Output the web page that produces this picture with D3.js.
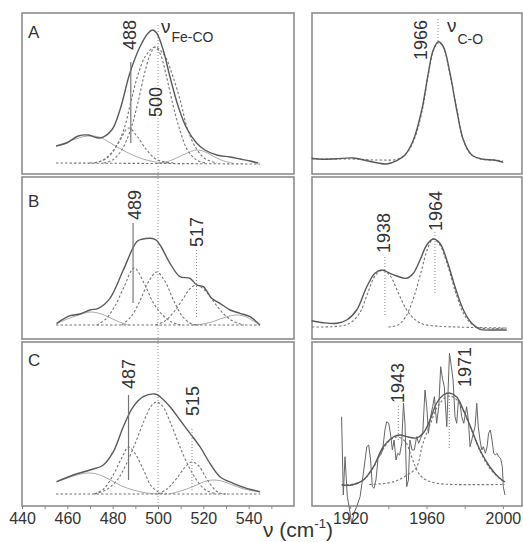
<!DOCTYPE html>
<html>
<head>
<meta charset="utf-8">
<script src="https://cdn.jsdelivr.net/npm/d3@7"></script>
<style>
  html, body { margin: 0; padding: 0; background: #fff; }
  svg text { font-family: "Liberation Sans", Arial, sans-serif; fill: #333; }
</style>
</head>
<body>
<svg id="chart" width="523" height="542"></svg>
<script>
// ---- data: [wavenumber (cm-1), intensity (arb.)] ----
// left column, Fe-CO region
const envA = [[455,28],[459.7,31],[464.8,38],[469.3,39],[474.4,36],[479.6,44],[483.2,64],[487.6,101],[492,127],[495.7,141],[497.6,144],[499.4,141],[502.3,124],[505.3,97],[509,67],[512.6,46],[517,31],[520.7,24],[525.9,19],[531.7,17],[536.2,15],[540.6,13],[544.2,11]];
const lightA = [
  [[455,28],[460,32],[465,36],[469,38],[474,37],[479,31],[486,22],[492,16],[499,12],[505,11]],
  [[500,11],[505,13],[510,18],[514,22],[517,24],[521,22],[525,17],[529,13],[533,11]]
];
const dashA = [
  [[470,11],[475,13],[479,20],[483,33],[487,46],[491,37],[495,24],[499,15],[503,12],[507,11]],
  [[476,11],[480,14],[484,24],[488,45],[491,70],[494,100],[496.5,119],[498.7,127],[501,120],[503.5,100],[506.5,70],[509.5,45],[513,24],[517,14],[521,11]],
  [[472,11],[477,15],[481,25],[485,45],[488,72],[491,98],[494.5,118],[498.7,127],[503,118],[506.5,98],[510,72],[513,45],[517,25],[521,15],[526,11]],
  [[455,11],[545,10]]
];

const envB = [[455.3,15.7],[461.2,23.3],[465.6,25],[470,29],[473.7,30.7],[478.8,40.7],[484.7,69],[490.6,97.3],[492.8,99.7],[498.7,99.7],[500.9,94],[505.3,75.7],[509.7,62.3],[514.1,60.7],[517.1,54],[520,52.3],[523.7,40.7],[527.3,35.7],[531.8,29],[536.2,25.7],[540.6,22.3],[545,14]];
const lightB = [
  [[455,15],[460,20],[465,24],[470,27],[475,25],[479,21],[483,17],[487,14]],
  [[515,14],[520,15],[525,18],[530,22],[535,24],[539,22],[542,18],[545,14]]
];
const dashB = [
  [[473,14],[477,20],[481,33],[485,52],[489.5,71],[494,55],[498,36],[502,24],[506,17],[510,14]],
  [[484,14],[488,22],[492,38],[496,58],[499.4,67],[503,58],[507,38],[511,22],[515,15],[518,14]],
  [[499,14],[503,18],[507,27],[511,40],[514,50],[517,54],[521,48],[525,36],[529,25],[533,18],[538,14]],
  [[455,14],[545,14]]
];

const envC = [[455.3,24.3],[462.6,31],[470,36],[475.9,41],[480.3,54.3],[484.7,79.3],[489.1,99.3],[493.5,109.3],[498.7,112],[500.9,109.3],[505.3,99.3],[509.7,86],[514.1,72.7],[518.5,59.3],[522.9,42.7],[527.3,29.3],[533.2,22.7],[539.1,17.7],[545,14.3]];
const lightC = [
  [[455,24],[460,28],[465,31.5],[470,33],[475,30.5],[479,26],[484,20],[489,16],[495,13],[500,12]],
  [[505,12],[510,15],[515,19],[520,24],[524,26],[528,25],[533,21],[538,17],[545,14]]
];
const dashC = [
  [[472,12],[476,17],[480,30],[484,48],[487,59],[490,52],[494,34],[497,20],[501,13],[504,12]],
  [[472,12],[477,16],[482,26],[486,42],[490,63],[494,86],[497,100],[499.4,104],[502,100],[505,86],[509,63],[513,42],[517,26],[521,16],[526,12]],
  [[500,12],[504,17],[508,27],[512,39],[515,44],[518,40],[521,29],[524,19],[527,13],[530,12]],
  [[455,12],[545,12]]
];

// right column, C-O region
const envRA = [[1899.8,15.7],[1905.9,14.7],[1912.9,15.3],[1921.6,16],[1928.7,13.3],[1933.9,11.3],[1939.1,10],[1944.4,13.3],[1948.7,19],[1953.1,34],[1957.5,64],[1960.9,100.7],[1963.5,124],[1966.2,132.3],[1968.8,127.3],[1972.3,100.7],[1975.8,64],[1979.3,34],[1983.7,19],[1989.7,14.7],[1995,14],[2000.2,11.7]];
const dashRA = [
  [[1900,15],[1920,15],[1935,14],[1945,15],[1950,22],[1954,37],[1958,66],[1961,100],[1963.5,123],[1966.2,132],[1969,126],[1972,102],[1976,64],[1979,36],[1983,20],[1988,15],[1995,14],[2000,13]]
];

const envRB = [[1899.8,18.3],[1905.9,16.3],[1912.9,15.7],[1918.2,19],[1923.4,29],[1928.7,52.3],[1933,65.7],[1936.5,69],[1940.9,65.7],[1944.4,63],[1949.6,60.7],[1953.1,65.7],[1956.6,79],[1960.1,94],[1963.5,100],[1967,95.7],[1970.6,79],[1974.9,52.3],[1979.3,29],[1983.7,15.7],[1988,9.7],[1995,9],[2002,9]];
const dashRB = [
  [[1900,12],[1915,13],[1920,16],[1925,26],[1929,45],[1933,63],[1937,69],[1941,63],[1945,47],[1949,31],[1953,21],[1958,15],[1965,13],[1975,12],[2002,11]],
  [[1940,12],[1945,14],[1949,22],[1953,40],[1957,66],[1960.5,90],[1963.5,100],[1967,94],[1971,74],[1975,48],[1979,27],[1983,16],[1988,11],[2002,11]]
];

const noisyRC = [[1915.5,89.3],[1916.4,11],[1917.3,49.3],[1918.5,9.3],[1919.6,-2.3],[1920.8,-18],[1922,-7],[1923.4,-0.7],[1925.2,9.3],[1926.9,32.7],[1928.7,59.3],[1929.7,61],[1930.7,46],[1931.6,19.3],[1932.5,17.7],[1933.5,26],[1934.7,49.3],[1936,51],[1937,56],[1938.2,76],[1939.1,84.3],[1940.2,82.7],[1941.2,71],[1942.1,56],[1943,66],[1944,46],[1944.9,52.7],[1945.9,51],[1947,62.7],[1947.9,102.7],[1948.7,82.7],[1949.6,19.3],[1950.5,26],[1951.3,66],[1952.4,56],[1953.6,56],[1954.8,69.3],[1955.9,62.7],[1956.9,67.7],[1958,72.7],[1959.2,116],[1960.1,99.3],[1961,72.7],[1961.8,86],[1963.2,99.3],[1964.1,109.3],[1965.3,82.7],[1966.4,99.3],[1967.4,139.3],[1968.5,126],[1969.3,119.3],[1970.6,79.3],[1972,152.7],[1973,139.3],[1973.9,126],[1974.9,89.3],[1975.8,82.7],[1976.7,106],[1977.5,102.7],[1978.4,89.3],[1979.5,82.7],[1981,99.3],[1981.9,86],[1982.8,59.3],[1983.7,66],[1984.5,72.7],[1985.4,79.3],[1986.3,102.7],[1987.1,79.3],[1988,66],[1988.9,56],[1989.7,59.3],[1990.8,52.7],[1991.7,59.3],[1992.5,72.7],[1993.4,76],[1994.3,66],[1995.2,52.7],[1996,51],[1996.9,52.7],[1997.8,49.3],[1998.8,47.7],[1999.7,39.3],[2000.2,19.3],[2001.1,11]];
const fitRC = [[1915.6,21],[1921,21],[1926.9,26],[1932.1,39],[1937.3,59],[1942.6,69],[1946.1,71],[1950.4,69],[1954.8,68],[1958.3,73],[1961.8,86],[1965.3,103],[1968.8,111],[1971.9,113],[1975.8,109],[1979.3,96],[1983.7,76],[1988,56],[1993.2,39],[1997.6,29],[2001.1,24]];
const dashRC = [
  [[1915.5,21.5],[1922,22],[1927,26],[1932,38],[1937,56],[1941,66],[1945,69],[1949,64],[1952,50],[1954.5,38],[1957,30],[1961,25],[1966,22.5],[1975,21.5],[2001,21.5]],
  [[1930,21.5],[1938,22.5],[1944,25],[1949,30],[1954.5,38],[1958,62],[1962,82],[1966,100],[1971.5,110],[1976,106],[1980,92],[1984,74],[1988,55],[1993,38],[1998,28],[2001,24]]
];

// peak markers: [wavenumber, from, to]
const solidMarks = [[488,31,112],[489,36,116],[487,26,111]];
const dotMarksL = [[], [[517,22,89]], [[515,16,78]]];
const dotMarksR = [[[1966,130,156]], [[1938.2,24,84],[1964.4,46,107]], [[1945.2,66,101],[1971.9,58,111]]];

// peak labels: [text, wavenumber, intensity] (label centre)
const labelsL = [[['488',487.6,139],['500',498.7,72]], [['489',489.8,134],['517',517.2,107]], [['487',487.2,132],['515',515.4,105]]];
const labelsR = [[['1966',1957.1,134]], [['1938',1937.2,106],['1964',1964.7,128]], [['1943',1944.8,123],['1971',1979.9,139]]];
const panelNames = ['A','B','C'];

// ticks
const ticksL = d3.range(440, 551, 10);
const tickLabelsL = [440, 460, 480, 500, 520, 540];
const ticksR = [1920, 1940, 1960, 1980, 2000];
const tickLabelsR = [1920, 1960, 2000];

// ---- layout ----
const svg = d3.select('#chart');
const rows = [{top: 13, bottom: 174}, {top: 177, bottom: 339}, {top: 342, bottom: 506}];
const xL = d3.scaleLinear().domain([440, 560]).range([22, 294]);
const xR = d3.scaleLinear().domain([1900, 2010]).range([312, 522]);
const yRow = rows.map(r => d3.scaleLinear().domain([0, 160]).range([r.bottom, r.bottom - 160]));

const leftPanels = [
  {env: envA, light: lightA, dash: dashA},
  {env: envB, light: lightB, dash: dashB},
  {env: envC, light: lightC, dash: dashC}
];
const rightPanels = [
  {env: envRA, dash: dashRA},
  {env: envRB, dash: dashRB},
  {env: fitRC, dash: dashRC, noisy: noisyRC}
];

function lineFor(x, y, curve) {
  return d3.line().x(d => x(d[0])).y(d => y(d[1])).curve(curve || d3.curveCatmullRom);
}

// frames
rows.forEach(r => {
  [xL, xR].forEach(x => {
    svg.append('rect')
      .attr('x', x.range()[0]).attr('y', r.top)
      .attr('width', x.range()[1] - x.range()[0]).attr('height', r.bottom - r.top)
      .attr('fill', 'none').attr('stroke', '#8c8c8c').attr('stroke-width', 1.6);
  });
});

// long dotted line at 500 across the left column
svg.append('line')
  .attr('x1', xL(500)).attr('x2', xL(500))
  .attr('y1', yRow[0](149)).attr('y2', yRow[2](0))
  .attr('stroke', '#888').attr('stroke-width', 1).attr('stroke-dasharray', '1,2');

// left panels
leftPanels.forEach((p, i) => {
  const y = yRow[i];
  const g = svg.append('g');
  p.light.forEach(s => g.append('path').attr('d', lineFor(xL, y)(s))
    .attr('fill', 'none').attr('stroke', '#aaa').attr('stroke-width', 1));
  p.dash.forEach(s => g.append('path').attr('d', lineFor(xL, y)(s))
    .attr('fill', 'none').attr('stroke', '#777').attr('stroke-width', 1.1).attr('stroke-dasharray', '2.5,2'));
  g.append('path').attr('d', lineFor(xL, y)(p.env))
    .attr('fill', 'none').attr('stroke', '#5a5a5a').attr('stroke-width', 1.4);

  const m = solidMarks[i];
  g.append('line').attr('x1', xL(m[0])).attr('x2', xL(m[0]))
    .attr('y1', y(m[1])).attr('y2', y(m[2])).attr('stroke', '#777').attr('stroke-width', 1.2);
  dotMarksL[i].forEach(d => g.append('line').attr('x1', xL(d[0])).attr('x2', xL(d[0]))
    .attr('y1', y(d[1])).attr('y2', y(d[2]))
    .attr('stroke', '#888').attr('stroke-width', 1).attr('stroke-dasharray', '1,2'));

  labelsL[i].forEach(l => g.append('text')
    .attr('transform', `translate(${xL(l[1])},${y(l[2])}) rotate(-90)`)
    .attr('text-anchor', 'middle').attr('dy', '0.36em')
    .style('font-size', '18px').text(l[0]));

  g.append('text').attr('x', xL(442.6)).attr('y', y(rows[i].bottom - [38, 207, 366][i]))
    .style('font-size', '17px').text(panelNames[i]);
});

// right panels
rightPanels.forEach((p, i) => {
  const y = yRow[i];
  const g = svg.append('g');
  if (p.noisy) {
    g.append('path').attr('d', lineFor(xR, y, d3.curveLinear)(p.noisy))
      .attr('fill', 'none').attr('stroke', '#666').attr('stroke-width', 1);
  }
  p.dash.forEach(s => g.append('path').attr('d', lineFor(xR, y)(s))
    .attr('fill', 'none').attr('stroke', '#777').attr('stroke-width', 1.1).attr('stroke-dasharray', '2.5,2'));
  g.append('path').attr('d', lineFor(xR, y)(p.env))
    .attr('fill', 'none').attr('stroke', '#5a5a5a').attr('stroke-width', 1.4);

  dotMarksR[i].forEach(d => g.append('line').attr('x1', xR(d[0])).attr('x2', xR(d[0]))
    .attr('y1', y(d[1])).attr('y2', y(d[2]))
    .attr('stroke', '#888').attr('stroke-width', 1).attr('stroke-dasharray', '1,2'));

  labelsR[i].forEach(l => g.append('text')
    .attr('transform', `translate(${xR(l[1])},${y(l[2])}) rotate(-90)`)
    .attr('text-anchor', 'middle').attr('dy', '0.36em')
    .style('font-size', '18px').text(l[0]));
});

// mode labels
const nuFe = svg.append('text').attr('x', xL(501.3)).attr('y', yRow[0](141)).style('font-size', '19px');
nuFe.append('tspan').text('ν');
nuFe.append('tspan').attr('dy', 9).attr('dx', 1).style('font-size', '14px').text('Fe-CO');
const nuCO = svg.append('text').attr('x', xR(1970.7)).attr('y', yRow[0](142)).style('font-size', '19px');
nuCO.append('tspan').text('ν');
nuCO.append('tspan').attr('dy', 12).attr('dx', 1).style('font-size', '14px').text('C-O');

// axes
function drawAxis(x, ticks, labels) {
  const ax = svg.append('g').attr('transform', `translate(0,${rows[2].bottom})`)
    .call(d3.axisBottom(x).tickValues(ticks).tickSize(3).tickPadding(4)
      .tickFormat(d => labels.includes(d) ? d : ''));
  ax.select('.domain').remove();
  ax.selectAll('line').attr('stroke', '#888');
  ax.selectAll('text').style('font-size', '16px')
    .style('font-family', '"Liberation Sans", Arial, sans-serif').attr('fill', '#444');
}
drawAxis(xL, ticksL, tickLabelsL);
drawAxis(xR, ticksR, tickLabelsR);

// axis title
const title = svg.append('text').attr('x', 263).attr('y', 537).style('font-size', '21px');
title.append('tspan').text('ν (cm');
title.append('tspan').attr('dy', -9).style('font-size', '13px').text('-1');
title.append('tspan').attr('dy', 9).text(')');
</script>
</body>
</html>
